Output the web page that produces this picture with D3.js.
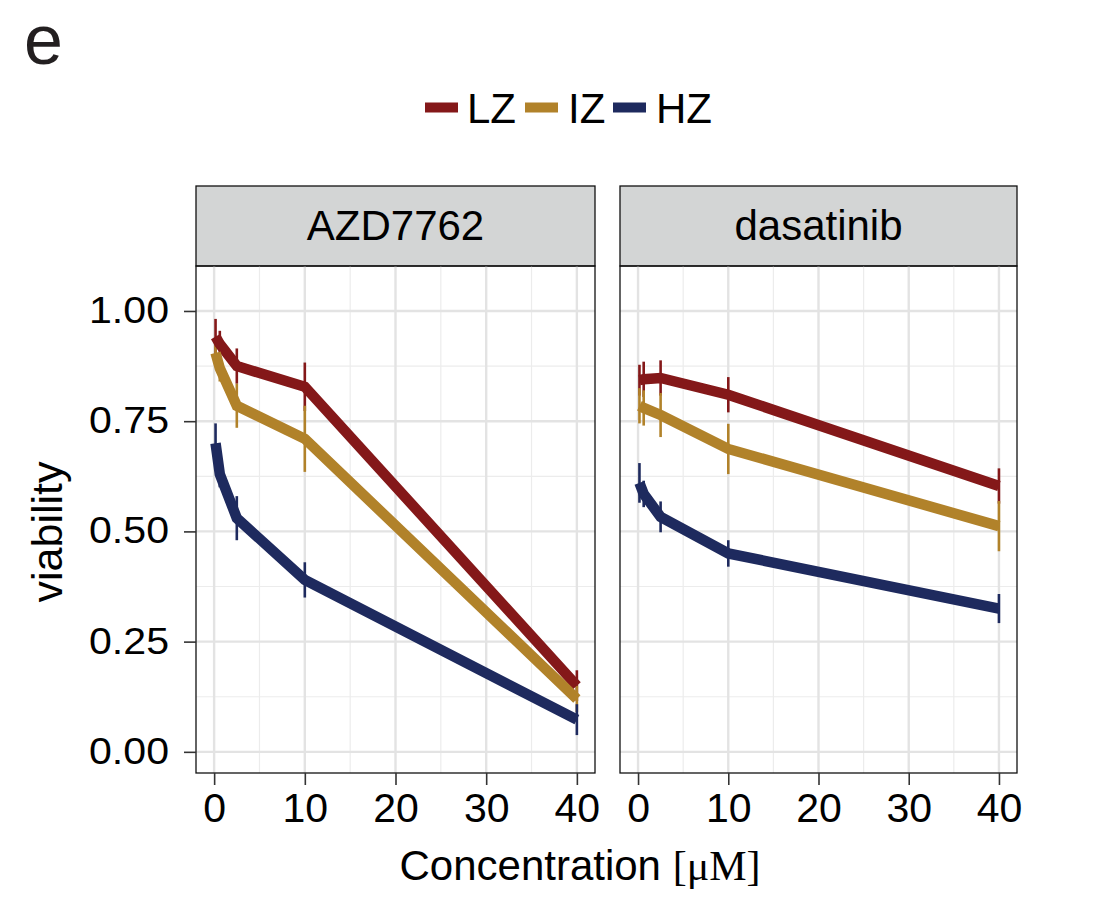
<!DOCTYPE html>
<html><head><meta charset="utf-8">
<script src="https://cdn.jsdelivr.net/npm/d3@7"></script>
<style>body{margin:0;background:#fff;} svg{display:block;}</style>
</head><body>
<script>
const panels = ["AZD7762", "dasatinib"];
const groups = ["LZ", "IZ", "HZ"];
const colors = ["#841819", "#b1822a", "#1e2a5e"];
const conc = [0.156, 0.625, 2.5, 10, 40];
// mean viability per panel, per group
const azdLZ = [0.942, 0.925, 0.875, 0.828, 0.150];
const azdIZ = [0.905, 0.870, 0.785, 0.710, 0.120];
const azdHZ = [0.700, 0.630, 0.530, 0.390, 0.073];
const dasLZ = [0.843, 0.845, 0.848, 0.810, 0.603];
const dasIZ = [0.785, 0.780, 0.764, 0.687, 0.512];
const dasHZ = [0.610, 0.585, 0.533, 0.450, 0.325];
// error (half-width)
const azdLZe = [0.040, 0.030, 0.040, 0.055, 0.035];
const azdIZe = [0.030, 0.030, 0.050, 0.075, 0.030];
const azdHZe = [0.045, 0.030, 0.050, 0.040, 0.035];
const dasLZe = [0.035, 0.040, 0.040, 0.040, 0.040];
const dasIZe = [0.040, 0.040, 0.050, 0.057, 0.057];
const dasHZe = [0.045, 0.030, 0.035, 0.030, 0.033];
const xTicks = [0, 10, 20, 30, 40];
const yTicks = [0, 0.25, 0.5, 0.75, 1.0];
const yTickLabels = ["0.00", "0.25", "0.50", "0.75", "1.00"];

const data = [
  [[azdLZ, azdLZe], [azdIZ, azdIZe], [azdHZ, azdHZe]],
  [[dasLZ, dasLZe], [dasIZ, dasIZe], [dasHZ, dasHZe]]
];

const W = 1101, H = 897;
const FONT = "'Liberation Sans', Arial, Helvetica, sans-serif";
const svg = d3.select("body").append("svg").attr("width", W).attr("height", H)
  .style("font-family", FONT);

const panelX = [[196, 595], [620, 1017]];
const stripTop = 186, stripBot = 266, plotBot = 773;

const y = d3.scaleLinear().domain([-0.048, 1.102]).range([plotBot, stripBot]);

// panel label
svg.append("text").attr("x", 24).attr("y", 64).attr("font-size", 70).attr("fill", "#231f20")
  .attr("font-family", FONT).text("e");

// y axis title
svg.append("text").attr("transform", `translate(62,532) rotate(-90)`)
  .attr("text-anchor", "middle").attr("font-size", 43).text("viability");

// x axis title
const xt = svg.append("text").attr("x", 580).attr("y", 880)
  .attr("text-anchor", "middle").attr("font-size", 42);
xt.append("tspan").text("Concentration ");
xt.append("tspan").attr("font-family", "'Liberation Serif', 'DejaVu Serif', serif").text("[μM]");

// legend
const legItems = [
  {key: 425, txt: 467},
  {key: 525, txt: 568},
  {key: 613, txt: 656}
];
groups.forEach((g, i) => {
  svg.append("line").attr("x1", legItems[i].key).attr("x2", legItems[i].key + 33)
    .attr("y1", 107.5).attr("y2", 107.5).attr("stroke", colors[i]).attr("stroke-width", 10);
  svg.append("text").attr("x", legItems[i].txt).attr("y", 123).attr("font-size", 42).text(g);
});

panels.forEach((p, pi) => {
  const [x0, x1] = panelX[pi];
  const x = d3.scaleLinear().domain([-2, 42]).range([x0, x1]);
  const g = svg.append("g");

  // strip
  g.append("rect").attr("x", x0).attr("y", stripTop).attr("width", x1 - x0).attr("height", stripBot - stripTop)
    .attr("fill", "#d3d5d5").attr("stroke", "#111").attr("stroke-width", 1.3);
  g.append("text").attr("x", (x0 + x1) / 2).attr("y", 240)
    .attr("text-anchor", "middle").attr("font-size", 42).text(p);

  // grid
  const minorX = [5, 15, 25, 35], minorY = [0.125, 0.375, 0.625, 0.875];
  minorX.forEach(v => g.append("line").attr("x1", x(v)).attr("x2", x(v)).attr("y1", stripBot).attr("y2", plotBot)
    .attr("stroke", "#ececec").attr("stroke-width", 1.2));
  minorY.forEach(v => g.append("line").attr("x1", x0).attr("x2", x1).attr("y1", y(v)).attr("y2", y(v))
    .attr("stroke", "#ececec").attr("stroke-width", 1.2));
  xTicks.forEach(v => g.append("line").attr("x1", x(v)).attr("x2", x(v)).attr("y1", stripBot).attr("y2", plotBot)
    .attr("stroke", "#e3e3e3").attr("stroke-width", 2.4));
  yTicks.forEach(v => g.append("line").attr("x1", x0).attr("x2", x1).attr("y1", y(v)).attr("y2", y(v))
    .attr("stroke", "#e3e3e3").attr("stroke-width", 2.4));

  // data
  data[pi].forEach((sd, gi) => {
    const [vals, errs] = sd;
    const pts = conc.map((c, k) => ({c, v: vals[k], e: errs[k]}));
    g.append("g").selectAll("line").data(pts).join("line")
      .attr("x1", d => x(d.c)).attr("x2", d => x(d.c))
      .attr("y1", d => y(d.v - d.e)).attr("y2", d => y(d.v + d.e))
      .attr("stroke", colors[gi]).attr("stroke-width", 2.6);
  });
  data[pi].forEach((sd, gi) => {
    const [vals] = sd;
    const line = d3.line().x((d, k) => x(conc[k])).y(d => y(d));
    g.append("path").attr("d", line(vals)).attr("fill", "none")
      .attr("stroke", colors[gi]).attr("stroke-width", 10.5).attr("stroke-linejoin", "miter");
  });

  // border
  g.append("rect").attr("x", x0).attr("y", stripBot).attr("width", x1 - x0).attr("height", plotBot - stripBot)
    .attr("fill", "none").attr("stroke", "#111").attr("stroke-width", 1.3);

  // x axis
  const xa = g.append("g").attr("transform", `translate(0,${plotBot})`)
    .call(d3.axisBottom(x).tickValues(xTicks).tickSize(12).tickPadding(8).tickFormat(d3.format("d")));
  xa.select(".domain").remove();
  xa.selectAll("line").attr("stroke", "#333").attr("stroke-width", 1.6);
  xa.selectAll("text").attr("font-size", 41).attr("fill", "#000").attr("font-family", FONT);

  if (pi === 0) {
    const ya = g.append("g").attr("transform", `translate(${x0},0)`)
      .call(d3.axisLeft(y).tickValues(yTicks).tickSize(12).tickPadding(15).tickFormat((d, i) => yTickLabels[i]));
    ya.select(".domain").remove();
    ya.selectAll("line").attr("stroke", "#333").attr("stroke-width", 1.6);
    ya.selectAll("text").attr("font-size", 36).attr("fill", "#000").attr("font-family", FONT)
      .attr("textLength", 80).attr("lengthAdjust", "spacingAndGlyphs");
  }
});
</script>
</body></html>
